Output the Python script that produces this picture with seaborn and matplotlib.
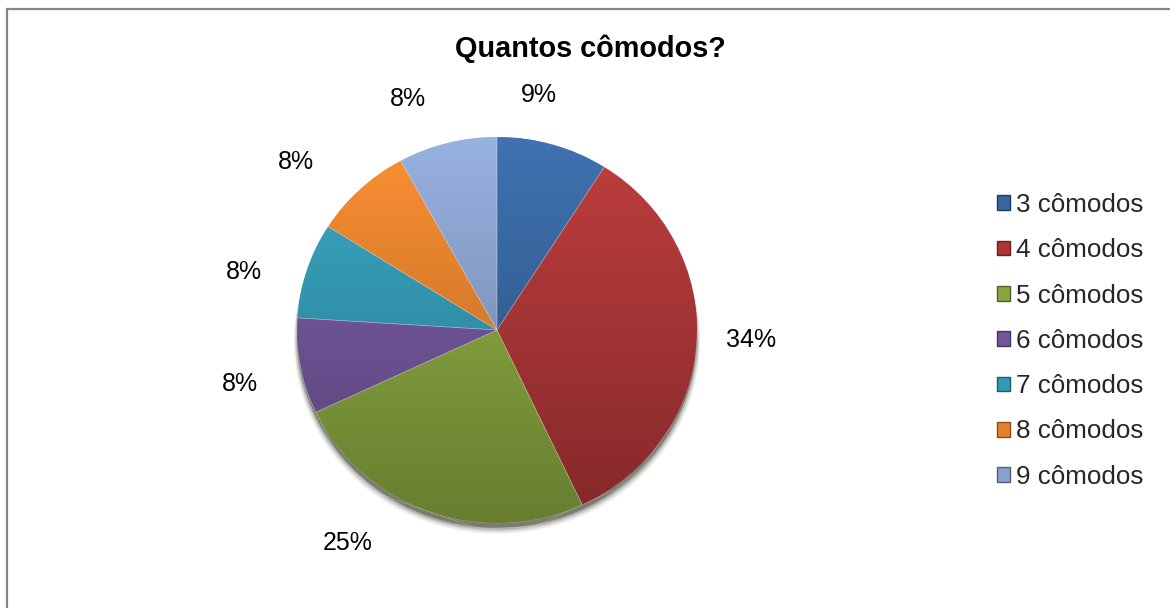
import numpy as np
import matplotlib
matplotlib.use("Agg")
import matplotlib.pyplot as plt
from matplotlib.patches import Patch, Ellipse, Rectangle
import seaborn as sns

# Data
categories = ["3 cômodos", "4 cômodos", "5 cômodos", "6 cômodos",
              "7 cômodos", "8 cômodos", "9 cômodos"]
shares = [9, 34, 25, 8, 8, 8, 8]
title = "Quantos cômodos?"

# Office-style palette
palette = ["#36659f", "#ad3536", "#87a63e", "#72569c",
           "#3299b3", "#e5812b", "#88a0cc"]

# Label anchors (pixels, from the top-left of the figure)
label_xy = [(539, 95), (751, 340), (348, 543), (240, 384),
            (244, 272), (296, 162), (408, 99)]

sns.set_theme(style="white")
plt.rcParams["font.family"] = ["Liberation Sans", "DejaVu Sans"]

W, H = 1170, 608
fig = plt.figure(figsize=(W / 100, H / 100), dpi=100)
fig.patch.set_facecolor("white")

def px(x, y):
    return x / W, 1 - y / H

# Pie area
cx, cy, rx, ry = 497, 330, 200, 193
ax = fig.add_axes([(cx - rx) / W, (H - cy - ry) / H, 2 * rx / W, 2 * ry / H])
cols = sns.color_palette(palette)
wedges, _ = ax.pie(shares, colors=cols, startangle=90, counterclock=False,
                   radius=1, wedgeprops=dict(linewidth=0.4, edgecolor=(1, 1, 1, 0.35)))
ax.set_aspect("auto")

# soft drop shadow under the pie
for i, (dy, a) in enumerate([(-0.055, 0.08), (-0.045, 0.12), (-0.035, 0.2), (-0.025, 0.35)]):
    sh = Ellipse((0, dy), 2.0 + 0.01 * (3 - i), 2.0, facecolor=(0.1, 0.12, 0.05, a),
                 edgecolor="none", zorder=0.5)
    ax.add_patch(sh)

# vertical shading on each wedge
ny = 200
t = np.linspace(0, 1, ny)[:, None]
for w, c in zip(wedges, cols):
    c = np.array(c)
    top = np.clip(c * 1.08 + 0.02, 0, 1)
    bot = c * 0.76
    grad = top[None, :] * (1 - t) + bot[None, :] * t
    img = np.repeat(grad[:, None, :], 2, axis=1)
    w.set_zorder(1)
    im = ax.imshow(img, extent=(-1, 1, -1, 1), origin="upper", aspect="auto",
                   zorder=2, interpolation="bilinear")
    im.set_clip_path(w)
    # faint edge line on top of the shading
    w2 = plt.Polygon(w.get_path().vertices, closed=True, transform=w.get_transform(),
                     facecolor="none", edgecolor=(1, 1, 1, 0.25), linewidth=0.5, zorder=3)
    ax.add_patch(w2)

ax.set_xlim(-1.08, 1.08)
ax.set_ylim(-1.08, 1.08)
ax.set_position([(cx - rx * 1.08) / W, (H - cy - ry * 1.08) / H,
                 2 * rx * 1.08 / W, 2 * ry * 1.08 / H])
ax.axis("off")

# Percentage labels
for (lx, ly), v in zip(label_xy, shares):
    fx, fy = px(lx, ly)
    fig.text(fx, fy, f"{v}%", ha="center", va="center", fontsize=18, color="black")

# Title
tx, ty = px(590, 57)
fig.text(tx, ty, title, ha="center", va="baseline", fontsize=20.8,
         fontweight="bold", color="black")

# Legend
handles = [Patch(facecolor=c, edgecolor=tuple(np.array(c) * 0.6)) for c in cols]
lx, ly = px(997, 193)
fig.legend(handles, categories, loc="upper left", bbox_to_anchor=(lx, ly),
           frameon=False, fontsize=18.7, handlelength=0.5, handleheight=0.5,
           handletextpad=0.22, labelspacing=0.82, borderpad=0, borderaxespad=0)

# Chart border
bx, by = px(6.5, 9.5)
fig.patches.append(Rectangle((bx, -0.1), 1.2, by + 0.1, transform=fig.transFigure,
                             facecolor="none", edgecolor="#868686", linewidth=1.6))

fig.savefig("out.png", dpi=100, facecolor="white")
